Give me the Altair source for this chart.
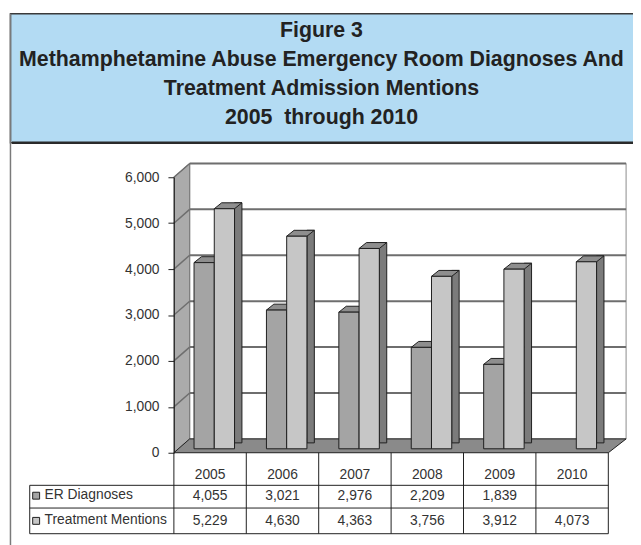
import altair as alt
import pandas as pd

# ---------------- data ----------------
years = ["2005", "2006", "2007", "2008", "2009", "2010"]
er_diagnoses = [4055, 3021, 2976, 2209, 1839, None]
treatment_mentions = [5229, 4630, 4363, 3756, 3912, 4073]
y_ticks = [0, 1000, 2000, 3000, 4000, 5000, 6000]
series_names = ["ER Diagnoses", "Treatment Mentions"]
title_lines = [
    "Figure 3",
    "Methamphetamine Abuse Emergency Room Diagnoses And",
    "Treatment Admission Mentions",
    "2005\u00a0 through 2010",
]

# ---------------- styles ----------------
FONT = "Liberation Sans"
EDGE = "#1e1e1e"
ER_FRONT = "#a4a4a4"
TR_FRONT = "#c6c6c6"
SIDE = "#7b7b7b"
TOP = "#8e8e8e"
FLOOR = "#8a8a8a"
WALL = "#ababab"
GRID = "#6e6e6e"
BLUE = "#b3dbf3"
TXT = "#333333"

W, H = 440, 279

er_df = pd.DataFrame({"year": years, "value": er_diagnoses})
tr_df = pd.DataFrame({"year": years, "value": treatment_mentions})
tick_df = pd.DataFrame({"tick": y_ticks})
one = pd.DataFrame({"k": [0]})


def fmt(v):
    return "" if v is None or pd.isna(v) else f"{int(v):,}"


table_df = pd.DataFrame({
    "year": years,
    "er": [fmt(v) for v in er_diagnoses],
    "tr": [fmt(v) for v in treatment_mentions],
})
legend_df = pd.DataFrame({"series": series_names, "row": [0, 1]})

xscale = alt.Scale(domain=years, paddingInner=0, paddingOuter=0)
yscale = alt.Scale(domain=[0, 6000], nice=False, zero=True)
yaxis = alt.Axis(values=y_ticks, format=",d", title=None, grid=False,
                 labelFont=FONT, labelFontSize=14, labelColor=TXT,
                 labelPadding=9, tickSize=6, tickColor=EDGE, domainColor=EDGE,
                 tickWidth=1, domainWidth=1, zindex=1)

X = alt.X("year:N", scale=xscale, axis=None)

# ---------------- frame / decorations ----------------
title_box = alt.Chart(one).mark_rect(fill=BLUE, stroke="#3a3a3a", strokeWidth=1.5).encode(
    x=alt.value(-165.5), x2=alt.value(480), y=alt.value(-165.5), y2=alt.value(-35))
title_rule = alt.Chart(one).mark_rule(color="#2a2a2a", strokeWidth=2.5).encode(
    x=alt.value(-164), x2=alt.value(480), y=alt.value(-35))
left_border = alt.Chart(one).mark_rule(color="#7a7a7a", strokeWidth=1.5).encode(
    x=alt.value(-165.5), y=alt.value(-165.5), y2=alt.value(380))
title_text = alt.Chart(one).mark_text(
    font=FONT, fontSize=21.6, fontWeight="bold", color="#222222",
    align="center", baseline="alphabetic", lineHeight=29.3).encode(
    x=alt.value(149.5), y=alt.value(-141.7), text=alt.value(title_lines))

# back wall
back_wall = alt.Chart(one).mark_rect(fill="white", stroke="#8a8a8a", strokeWidth=1,
                                     yOffset=-14, y2Offset=-14).encode(
    x=alt.value(16), x2=alt.value(458),
    y=alt.datum(6000, scale=yscale), y2=alt.datum(0))
back_grid = alt.Chart(tick_df[tick_df.tick > 0]).mark_rule(
    color=GRID, strokeWidth=2, yOffset=-14).encode(
    x=alt.value(16), x2=alt.value(458),
    y=alt.Y("tick:Q", scale=yscale, axis=yaxis))

# left wall (parallelogram) and its slanted grid lines
left_wall = alt.Chart(one).mark_point(
    shape="M-0.0546,1L-0.0546,-0.9044L0.0546,-1L0.0546,0.9044Z",
    size=85849, filled=True, fill=WALL, stroke="#777777", strokeWidth=1,
    opacity=1).encode(x=alt.value(8), y=alt.datum(3000, scale=yscale), yOffset=alt.value(-7))
left_grid = alt.Chart(tick_df[tick_df.tick > 0]).mark_point(
    shape="M-1,0.875L1,-0.875", size=256, filled=False, stroke=GRID,
    strokeWidth=1.5, opacity=1, yOffset=-7).encode(
    x=alt.value(8), y=alt.Y("tick:Q", scale=yscale, axis=yaxis))

# floor
floor = alt.Chart(one).mark_point(
    shape="M-1,0.03057L0.9214,0.03057L1,-0.03057L-0.9301,-0.03057Z",
    size=209764, filled=True, fill=FLOOR, stroke=EDGE, strokeWidth=1,
    opacity=1, yOffset=-7).encode(x=alt.value(229), y=alt.datum(0, scale=yscale))

# ---------------- bars (pseudo-3D) ----------------
TOP_PATH = "M-0.5775,0L0.5775,0L1,-0.338L-0.1549,-0.338Z"


def bar_layers(df, dx, front):
    base = alt.Chart(df.dropna()).encode(
        x=X, y=alt.Y("value:Q", scale=yscale, axis=yaxis))
    side = base.mark_bar(width=7.5, xOffset=dx + 14, yOffset=-10, y2Offset=-4,
                         fill=SIDE, stroke=EDGE, strokeWidth=1)
    top = base.mark_point(shape=TOP_PATH, size=1260.25, filled=True, fill=TOP,
                          stroke=EDGE, strokeWidth=1, opacity=1,
                          xOffset=dx, yOffset=-4)
    face = base.mark_bar(width=20.5, xOffset=dx, yOffset=-4, y2Offset=-4,
                         fill=front, stroke=EDGE, strokeWidth=1)
    return [side, top, face]


bars = bar_layers(er_df, -6, ER_FRONT) + bar_layers(tr_df, 14.5, TR_FRONT)

# ---------------- data table ----------------
tcol = alt.Chart(table_df).mark_rule(color=EDGE, strokeWidth=1).encode(
    x=alt.X("year:N", scale=xscale, axis=None, bandPosition=0),
    y=alt.value(279), y2=alt.value(361))
tright = alt.Chart(one).mark_rule(color=EDGE, strokeWidth=1).encode(
    x=alt.value(440), y=alt.value(279), y2=alt.value(361))
tleft = alt.Chart(one).mark_rule(color=EDGE, strokeWidth=1).encode(
    x=alt.value(-146), y=alt.value(312), y2=alt.value(361))
hrules = [alt.Chart(one).mark_rule(color=EDGE, strokeWidth=1).encode(
    x=alt.value(-146), x2=alt.value(440), y=alt.value(yy)) for yy in (312, 335, 361)]

txt = dict(font=FONT, fontSize=14, color=TXT, baseline="middle")
year_text = alt.Chart(table_df).mark_text(**txt).encode(
    x=X, y=alt.value(302), text="year:N")
er_text = alt.Chart(table_df).mark_text(**txt).encode(
    x=X, y=alt.value(323), text="er:N")
tr_text = alt.Chart(table_df).mark_text(**txt).encode(
    x=X, y=alt.value(348.5), text="tr:N")
row_er = alt.Chart(legend_df[legend_df.row == 0]).mark_text(align="left", **txt).encode(
    x=alt.value(-131), y=alt.value(322), text="series:N")
row_tr = alt.Chart(legend_df[legend_df.row == 1]).mark_text(align="left", **txt).encode(
    x=alt.value(-131), y=alt.value(347.5), text="series:N")
sq_er = alt.Chart(legend_df[legend_df.row == 0]).mark_point(
    shape="square", size=49, filled=True, fill=ER_FRONT, stroke=EDGE,
    strokeWidth=1, opacity=1).encode(x=alt.value(-139.5), y=alt.value(322.5))
sq_tr = alt.Chart(legend_df[legend_df.row == 1]).mark_point(
    shape="square", size=49, filled=True, fill=TR_FRONT, stroke=EDGE,
    strokeWidth=1, opacity=1).encode(x=alt.value(-139.5), y=alt.value(348))

chart = alt.layer(
    title_box, title_rule, left_border, title_text,
    back_wall, back_grid, left_wall, left_grid, floor,
    *bars,
    tcol, tright, tleft, *hrules,
    year_text, er_text, tr_text, row_er, row_tr, sq_er, sq_tr,
).properties(
    width=W, height=H,
    autosize=alt.AutoSizeParams(type="none"),
    padding={"left": 168, "top": 168, "right": 25, "bottom": 90},
    background="white",
).configure_view(stroke=None)

chart.save("out.html", embed_options={"renderer": "svg", "actions": False})
